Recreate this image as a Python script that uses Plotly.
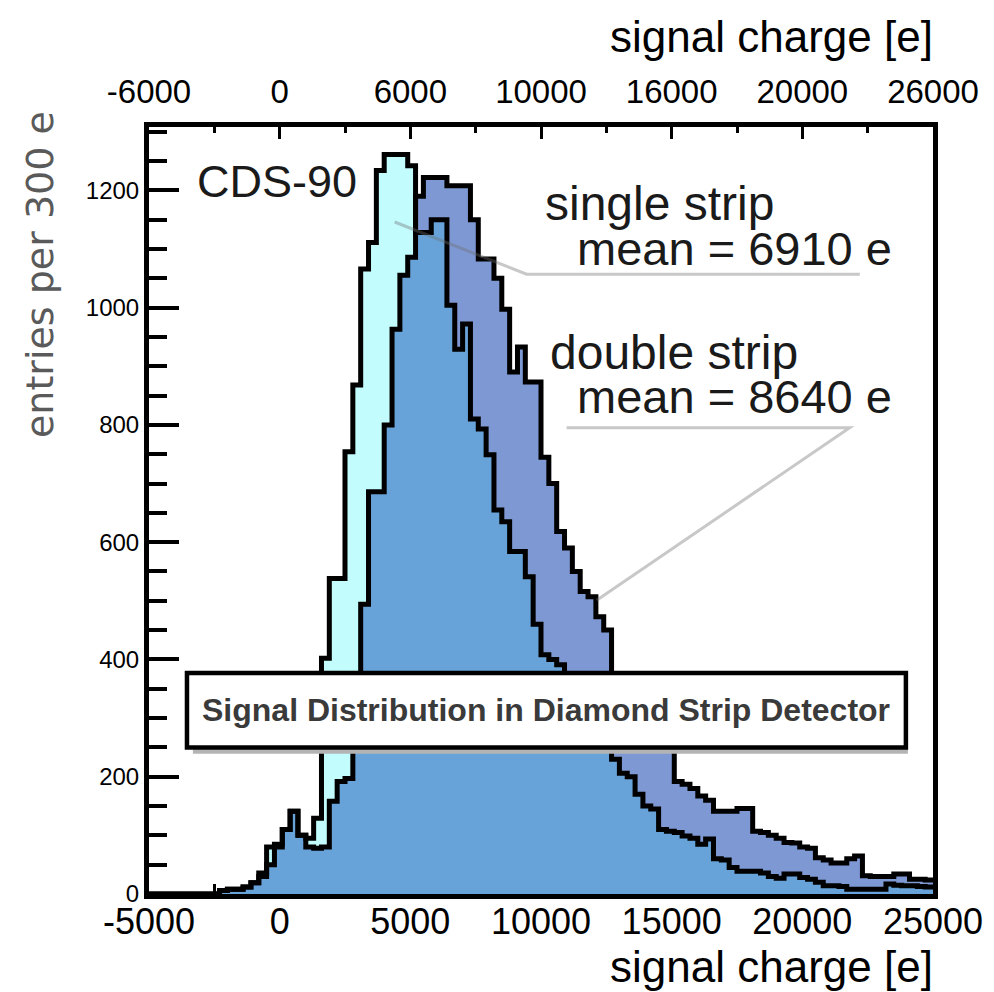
import numpy as np
import plotly.graph_objects as go

# Histogram binning: 100 bins of 300 e from -5000 to 25000 e
bin_edges = np.arange(-5000, 25001, 300)

# Entries per 300 e bin, single-strip clusters
single_strip = [
    0, 0, 0, 0, 0, 0, 0, 0, 0, 6,
    8, 8, 12, 19, 36, 80, 85, 110, 141, 100,
    95, 129, 402, 538, 538, 754, 868, 1066, 1111, 1234,
    1261, 1261, 1261, 1242, 1128, 1128, 1150, 1150, 1004, 929,
    972, 810, 793, 749, 655, 635, 584, 584, 541, 460,
    408, 400, 391, 370, 340, 320, 300, 280, 255, 230,
    206, 200, 170, 150, 145, 110, 107, 105, 99, 95,
    85, 94, 60, 58, 45, 39, 39, 39, 36, 30,
    27, 34, 34, 28, 25, 20, 14, 14, 13, 8,
    8, 8, 8, 8, 17, 15, 14, 14, 13, 12,
]

# Entries per 300 e bin, double-strip clusters
double_strip = [
    0, 0, 0, 0, 0, 0, 0, 0, 0, 6,
    8, 8, 12, 19, 30, 50, 80, 110, 141, 100,
    80, 78, 80, 158, 192, 197, 330, 494, 686, 686,
    800, 963, 1055, 1086, 1190, 1222, 1222, 1222, 1208, 1208,
    1208, 1150, 1083, 1083, 1050, 997, 890, 933, 873, 873,
    745, 700, 618, 590, 550, 516, 507, 473, 450, 376,
    376, 330, 300, 280, 265, 255, 245, 192, 187, 180,
    167, 160, 141, 141, 141, 146, 146, 107, 105, 100,
    95, 88, 87, 80, 78, 62, 58, 53, 53, 60,
    65, 31, 30, 30, 30, 34, 34, 25, 25, 24,
]

x_ticks = [-5000, 0, 5000, 10000, 15000, 20000, 25000]
x_ticktext_bottom = ["-5000", "0", "5000", "10000", "15000", "20000", "25000"]
x_ticktext_top = ["-6000", "0", "6000", "10000", "16000", "20000", "26000"]
y_ticks = [0, 200, 400, 600, 800, 1000, 1200]

single_mean = 6910
double_mean = 8640

C_SINGLE = "#c2fcfd"
C_DOUBLE = "#7e98d3"
C_OVERLAP = "#67a3d9"

SANS = "Liberation Sans, Arial, Helvetica, sans-serif"


def step_xy(values):
    xs = list(bin_edges)
    ys = list(values) + [values[-1]]
    return xs, ys


overlap = list(np.minimum(single_strip, double_strip))

fig = go.Figure()

for vals, col in [(double_strip, C_DOUBLE), (single_strip, C_SINGLE), (overlap, C_OVERLAP)]:
    xs, ys = step_xy(vals)
    fig.add_trace(go.Scatter(
        x=xs, y=ys, mode="lines", line=dict(shape="hv", width=0, color=col),
        fill="tozeroy", fillcolor=col, hoverinfo="skip", showlegend=False,
    ))

for vals in [single_strip, double_strip]:
    xs, ys = step_xy(vals)
    fig.add_trace(go.Scatter(
        x=xs, y=ys, mode="lines", line=dict(shape="hv", width=5, color="black"),
        hoverinfo="skip", showlegend=False,
    ))

# carrier trace for the top axis
fig.add_trace(go.Scatter(
    x=[bin_edges[0], bin_edges[-1]], y=[0, 0], xaxis="x2", mode="lines",
    line=dict(width=0), hoverinfo="skip", showlegend=False,
))

# leader lines from the labels to the distributions
fig.add_shape(type="path", path="M 4400,1146 L 9450,1057 L 22200,1057",
              line=dict(color="rgba(110,110,110,0.38)", width=3), layer="above")
fig.add_shape(type="path", path="M 10980,795 L 21810,795 L 12130,501",
              line=dict(color="rgba(110,110,110,0.38)", width=3), layer="above")

# title box with drop shadow
fig.add_shape(type="rect", x0=-3320, x1=24040, y0=239, y1=365,
              line=dict(width=0), fillcolor="#b4b4b4", layer="above")
fig.add_shape(type="rect", x0=-3547, x1=23963, y0=250, y1=377,
              line=dict(color="black", width=4.5), fillcolor="white", layer="above")
fig.add_annotation(x=10208, y=313, xref="x", yref="y", showarrow=False,
                   text="Signal Distribution in Diamond Strip Detector",
                   font=dict(family=SANS, size=32, color="#3a3a3a", weight="bold"))

labels = [
    ("CDS-90", 0.0587, 0.9295, 45),
    ("single strip", 0.5026, 0.9008, 48),
    (f"mean = {single_mean} e", 0.5434, 0.842, 47),
    ("double strip", 0.5089, 0.7063, 48),
    (f"mean = {double_mean} e", 0.5434, 0.6488, 47),
]
for txt, lx, ly, fs in labels:
    fig.add_annotation(x=lx, y=ly, xref="paper", yref="paper", xanchor="left",
                       yanchor="middle", showarrow=False, text=txt,
                       font=dict(family=SANS, size=fs, color="#1a1a1a"))

# axis titles
for ty in (1.1186, -0.0945):
    fig.add_annotation(x=1.003, y=ty, xref="paper", yref="paper", xanchor="right",
                       yanchor="middle", showarrow=False, text="signal charge [e]",
                       font=dict(family=SANS, size=44, color="black"))
fig.add_annotation(x=-0.139, y=0.807, xref="paper", yref="paper", textangle=-90,
                   xanchor="center", yanchor="middle",
                   showarrow=False, text="entries per 300 e",
                   font=dict(family="DejaVu Sans, sans-serif", size=38, color="#5a5a5a"))

minor_x = [-2500, 2500, 7500, 12500, 17500, 22500]

fig.update_layout(
    width=994, height=992,
    margin=dict(l=149, r=61, t=127, b=98),
    plot_bgcolor="white", paper_bgcolor="white",
    showlegend=False,
    xaxis=dict(
        range=[-5000, 25000], tickmode="array", tickvals=x_ticks, ticktext=x_ticktext_bottom,
        ticks="inside", ticklen=10, tickwidth=3, tickcolor="black",
        minor=dict(tickmode="array", tickvals=minor_x,
                   ticks="inside", ticklen=10, tickwidth=3, tickcolor="black"),
        showline=True, linewidth=5, linecolor="black", showgrid=False, zeroline=False,
        layer="below traces", ticklabelstandoff=-8,
        tickfont=dict(family=SANS, size=36, color="black"),
    ),
    xaxis2=dict(
        overlaying="x", side="top", range=[-5000, 25000],
        tickmode="array", tickvals=x_ticks, ticktext=x_ticktext_top,
        ticks="inside", ticklen=12, tickwidth=3, tickcolor="black",
        minor=dict(tickmode="array", tickvals=minor_x,
                   ticks="inside", ticklen=6, tickwidth=3, tickcolor="black"),
        showline=True, linewidth=5, linecolor="black", showgrid=False, zeroline=False,
        ticklabelstandoff=6,
        tickfont=dict(family=SANS, size=33, color="black"),
    ),
    yaxis=dict(
        range=[0, 1308], tickmode="array", tickvals=y_ticks,
        ticks="inside", ticklen=30, tickwidth=4, tickcolor="black",
        minor=dict(dtick=50, tick0=0, ticks="inside", ticklen=18, tickwidth=4, tickcolor="black"),
        showline=True, linewidth=5, linecolor="black", mirror=True,
        showgrid=False, zeroline=False, ticklabelstandoff=0,
        tickfont=dict(family=SANS, size=24, color="black"),
    ),
)

fig.write_html("out.html")
